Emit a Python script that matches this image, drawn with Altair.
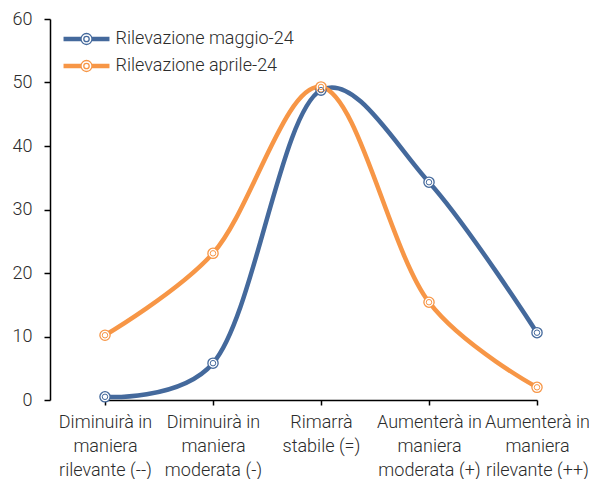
import altair as alt
import pandas as pd

categories = [
    "Diminuirà in|maniera|rilevante (--)",
    "Diminuirà in|maniera|moderata (-)",
    "Rimarrà|stabile (=)",
    "Aumenterà in|maniera|moderata (+)",
    "Aumenterà in|maniera|rilevante (++)",
]
series_names = ["Rilevazione maggio-24", "Rilevazione aprile-24"]
maggio = [0.5, 5.8, 48.8, 34.3, 10.6]
aprile = [10.2, 23.1, 49.3, 15.4, 2.0]
colors = ["#44699C", "#F79646"]
y_ticks = [0, 10, 20, 30, 40, 50, 60]

rows = []
for name, vals in zip(series_names, [maggio, aprile]):
    for c, v in zip(categories, vals):
        rows.append({"cat": c, "serie": name, "val": v})
df = pd.DataFrame(rows)

FONT = "Roboto"
TXT = "#2b2b2b"
FS = 18

# legend symbol: thick line (parallel hairlines) with double ring marker.
# symbolSize 144 -> 6 px per path unit
legend_path = (
    "M-3.83,-0.25H-0.917M-3.83,-0.083H-0.917M-3.83,0.083H-0.917M-3.83,0.25H-0.917"
    "M0.917,-0.25H3.83M0.917,-0.083H3.83M0.917,0.083H3.83M0.917,0.25H3.83"
    "M0.917,0A0.917,0.917,0,1,1,-0.917,0A0.917,0.917,0,1,1,0.917,0Z"
    "M0.45,0A0.45,0.45,0,1,1,-0.45,0A0.45,0.45,0,1,1,0.45,0Z"
)

x_enc = alt.X(
    "cat:N",
    sort=categories,
    scale=alt.Scale(type="point", range=[55, 487], padding=0),
    axis=alt.Axis(
        title=None,
        labelAngle=0,
        labelExpr="split(datum.label, '|')",
        labelFont=FONT,
        labelFontSize=FS,
        labelFontWeight=300,
        labelColor=TXT,
        labelLineHeight=24,
        labelPadding=8,
        labelBaseline="top",
        tickSize=5,
        tickColor="#000000",
        domainColor="#000000",
        domainWidth=1.5,
        tickWidth=1.5,
        grid=False,
        labelOverlap=False,
        labelBound=False,
        labelLimit=0,
    ),
)
y_enc = alt.Y(
    "val:Q",
    scale=alt.Scale(domain=[0, 60], nice=False, zero=True),
    axis=alt.Axis(
        title=None,
        values=y_ticks,
        grid=False,
        labelFont=FONT,
        labelFontSize=FS,
        labelFontWeight=300,
        labelColor=TXT,
        labelPadding=12,
        tickSize=6,
        tickColor="#000000",
        domainColor="#000000",
        domainWidth=1.5,
        tickWidth=1.5,
    ),
)
color_enc = alt.Color(
    "serie:N",
    sort=series_names,
    scale=alt.Scale(domain=series_names, range=colors),
    legend=alt.Legend(
        title=None,
        orient="none",
        legendX=27.5,
        legendY=11,
        padding=0,
        symbolType=legend_path,
        symbolSize=144,
        symbolStrokeWidth=1.3,
        symbolFillColor="white",
        labelFont=FONT,
        labelFontSize=FS,
        labelFontWeight=300,
        labelColor=TXT,
        labelOffset=20,
        labelLimit=0,
        rowPadding=9,
    ),
)

base = alt.Chart(df)
lines = base.mark_line(interpolate="catmull-rom", tension=0.25, strokeWidth=4.5).encode(
    x=x_enc, y=y_enc, color=color_enc, detail="serie:N"
)
outer = base.mark_point(filled=False, fill="white", fillOpacity=1, size=105, strokeWidth=1.3, opacity=1).encode(
    x=x_enc, y=y_enc, color=color_enc
)
inner = base.mark_point(filled=False, size=30, strokeWidth=1, opacity=1).encode(
    x=x_enc, y=y_enc, color=color_enc
)

chart = (
    alt.layer(lines, outer, inner)
    .properties(
        width=539,
        height=381,
        autosize=alt.AutoSizeParams(type="none"),
        padding={"left": 42, "top": 11, "right": 0, "bottom": 86},
    )
    .configure_view(stroke=None)
)

chart.save("out.html", embed_options={"renderer": "svg", "actions": False})
